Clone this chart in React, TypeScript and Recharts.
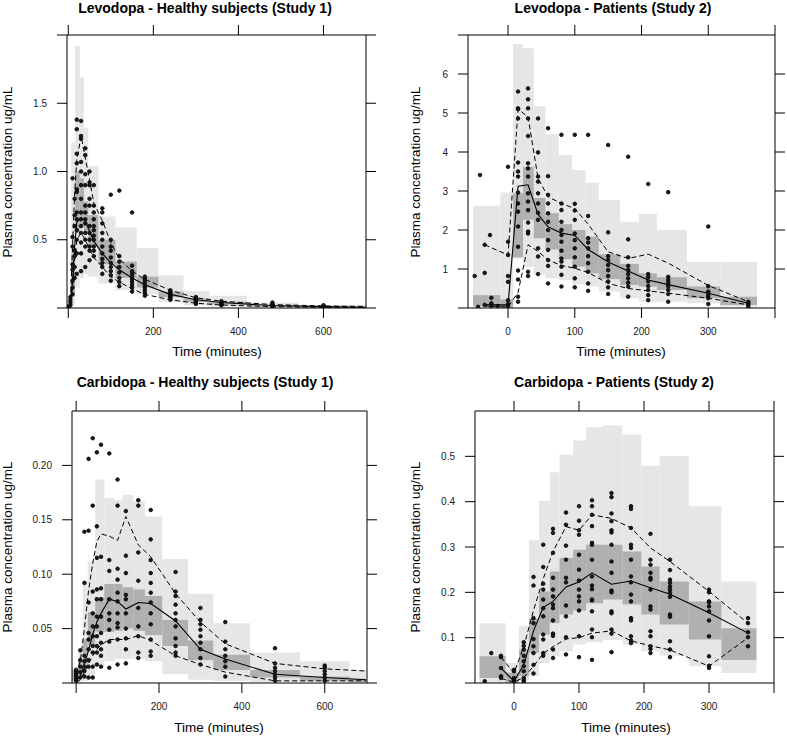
import React from "react";
import { ComposedChart, XAxis, YAxis, Line, Scatter, ReferenceArea } from "recharts";

const FONT = "'Liberation Sans', Arial, Helvetica, sans-serif";
const LIGHT = "#e6e6e6";
const DARK = "#b0b0b0";

// ---------- Levodopa - Healthy subjects (Study 1) ----------
const LD1_OBS_TIMES = [0, 5, 10, 15, 20, 30, 40, 50, 60, 80, 100, 120, 150, 180, 240, 300, 360, 480, 600];
const LD1_OBS_CONC = [
  [0, 0.005, 0.01],
  [0.02, 0.04, 0.06, 0.08],
  [0.1, 0.15, 0.2, 0.28, 0.32, 0.45, 0.52, 0.95],
  [0.22, 0.3, 0.38, 0.42, 0.6, 0.68, 0.8],
  [0.25, 0.4, 0.5, 0.57, 0.65, 0.7, 0.85, 0.87, 1.06, 1.13, 1.31, 1.38],
  [0.27, 0.4, 0.48, 0.55, 0.6, 0.65, 0.7, 0.8, 0.9, 1.0, 1.07, 1.24, 1.26, 1.37],
  [0.3, 0.45, 0.5, 0.55, 0.62, 0.65, 0.7, 0.75, 0.9, 0.98, 1.12, 1.17],
  [0.35, 0.42, 0.45, 0.5, 0.55, 0.6, 0.75, 0.8, 0.9, 0.92, 1.0],
  [0.38, 0.42, 0.45, 0.5, 0.53, 0.57, 0.6, 0.65, 0.7, 0.75, 0.9],
  [0.25, 0.3, 0.33, 0.36, 0.4, 0.45, 0.5, 0.55, 0.62, 0.7, 0.73],
  [0.2, 0.24, 0.27, 0.3, 0.33, 0.37, 0.42, 0.45, 0.5, 0.83],
  [0.16, 0.19, 0.22, 0.26, 0.3, 0.34, 0.38, 0.86],
  [0.12, 0.15, 0.17, 0.19, 0.21, 0.23, 0.25, 0.27, 0.31, 0.7],
  [0.09, 0.11, 0.13, 0.15, 0.17, 0.19, 0.21, 0.23],
  [0.06, 0.07, 0.08, 0.09, 0.1, 0.11, 0.12, 0.13],
  [0.03, 0.04, 0.05, 0.06, 0.07, 0.08],
  [0.02, 0.025, 0.03, 0.04, 0.05],
  [0.01, 0.015, 0.02, 0.03, 0.04],
  [0.005, 0.01, 0.015, 0.02],
];
const LD1_LINE_TIMES = [0, 5, 10, 15, 20, 30, 40, 50, 60, 80, 100, 120, 150, 180, 240, 300, 360, 480, 600, 700];
const LD1_MEDIAN = [0, 0.03, 0.2, 0.45, 0.63, 0.66, 0.64, 0.56, 0.49, 0.4, 0.33, 0.28, 0.22, 0.17, 0.1, 0.06, 0.04, 0.018, 0.01, 0.006];
const LD1_P95 = [0, 0.05, 0.45, 0.85, 1.08, 1.26, 1.1, 0.94, 0.77, 0.64, 0.48, 0.36, 0.27, 0.21, 0.13, 0.075, 0.05, 0.025, 0.015, 0.012];
const LD1_P05 = [0, 0.02, 0.15, 0.35, 0.5, 0.55, 0.5, 0.43, 0.37, 0.3, 0.23, 0.19, 0.14, 0.1, 0.06, 0.035, 0.022, 0.01, 0.005, 0.003];
const LD1_BIN_EDGES = [0, 7, 16, 27, 37, 47, 71, 111, 161, 212, 271, 332, 420, 540, 700];
const LD1_PI_LO = [0, 0.02, 0.15, 0.22, 0.25, 0.23, 0.18, 0.13, 0.1, 0.045, 0.02, 0.01, 0.005, 0.002];
const LD1_PI_HI = [0.06, 1.21, 1.92, 1.69, 1.32, 1.04, 0.67, 0.59, 0.44, 0.24, 0.125, 0.09, 0.04, 0.022];
const LD1_MED_LO = [0, 0.1, 0.55, 0.6, 0.55, 0.45, 0.32, 0.22, 0.15, 0.08, 0.045, 0.025, 0.01, 0.004];
const LD1_MED_HI = [0.02, 0.4, 1.0, 0.95, 0.78, 0.68, 0.5, 0.34, 0.23, 0.12, 0.07, 0.045, 0.02, 0.01];

// ---------- Levodopa - Patients (Study 2) ----------
const LD2_OBS_TIMES = [-50, -45, -42, -35, -27, -25, -15, 0, 15, 30, 45, 60, 80, 100, 120, 150, 180, 210, 240, 300, 360];
const LD2_OBS_CONC = [
  [0.82],
  [0.03],
  [3.41],
  [1.62, 0.9, 0.08],
  [1.87],
  [0.26, 0.12, 0.05],
  [0.05],
  [3.62, 1.7, 1.36, 0.82, 0.67, 0.2, 0.1, 0.05],
  [5.55, 5.12, 5.1, 4.86, 3.73, 3.5, 3.37, 2.96, 2.68, 2.47, 2.09, 1.57, 0.96, 0.73, 0.29, 0.16],
  [5.63, 5.35, 5.12, 4.86, 4.41, 3.71, 3.58, 3.37, 2.94, 2.73, 2.51, 2.19, 1.96, 1.91, 0.93, 0.82],
  [4.86, 3.99, 3.37, 3.24, 2.94, 2.68, 2.44, 2.26, 1.53, 1.32, 0.87],
  [4.61, 3.38, 2.9, 2.68, 2.43, 2.21, 2.0, 1.74, 1.49, 1.23, 1.08, 0.63],
  [4.44, 2.68, 2.51, 2.21, 2.0, 1.87, 1.7, 1.47, 1.27, 1.19, 1.06, 0.85, 0.55],
  [4.44, 2.67, 2.5, 2.26, 1.91, 1.74, 1.53, 1.3, 1.06, 0.76, 0.53],
  [4.44, 2.36, 1.79, 1.68, 1.53, 1.33, 1.15, 0.93, 0.63, 0.44],
  [4.18, 1.94, 1.33, 1.23, 1.1, 0.97, 0.82, 0.68, 0.53, 0.36],
  [3.88, 1.76, 1.3, 1.08, 0.97, 0.87, 0.76, 0.65, 0.55, 0.29],
  [3.18, 0.87, 0.79, 0.68, 0.56, 0.46, 0.33, 0.2],
  [2.97, 0.8, 0.72, 0.65, 0.56, 0.46, 0.36, 0.16],
  [2.09, 0.56, 0.42, 0.38, 0.31, 0.25, 0.1],
  [0.16, 0.12, 0.08, 0.03],
];
const LD2_LINE_TIMES = [-35, 0, 15, 30, 45, 60, 80, 100, 120, 150, 180, 210, 240, 300, 360];
const LD2_MEDIAN = [0.08, 0.08, 3.12, 3.16, 2.4, 2.08, 1.92, 1.86, 1.5, 1.18, 0.95, 0.72, 0.6, 0.38, 0.12];
const LD2_P95 = [1.62, 1.36, 5.1, 4.9, 3.32, 2.85, 2.68, 2.55, 2.15, 1.44, 1.27, 1.38, 1.15, 0.58, 0.16];
const LD2_P05 = [0.05, 0.03, 0.4, 1.62, 1.45, 1.23, 1.09, 1.02, 0.91, 0.63, 0.5, 0.44, 0.38, 0.25, 0.08];
const LD2_BIN_EDGES = [-52.5, -11.5, 7.5, 22.5, 38.5, 56, 76, 96, 116, 136, 168, 196, 223, 268, 318, 373];
const LD2_PI_LO = [0, 0, 1.27, 1.06, 0.85, 0.76, 0.72, 0.6, 0.55, 0.42, 0.25, 0.16, 0.16, 0.12, 0.03];
const LD2_PI_HI = [2.62, 2.96, 6.77, 6.66, 5.18, 4.46, 3.92, 3.54, 3.21, 2.77, 2.21, 2.41, 2.0, 1.18, 1.18];
const LD2_MED_LO = [0.05, 0, 1.3, 2.26, 1.79, 1.5, 1.25, 1.06, 0.89, 0.74, 0.59, 0.55, 0.46, 0.25, 0.08];
const LD2_MED_HI = [0.33, 0.22, 2.94, 3.62, 2.82, 2.43, 2.15, 2.0, 1.83, 1.38, 1.13, 0.89, 0.79, 0.55, 0.29];

// ---------- Carbidopa - Healthy subjects (Study 1) ----------
const CD1_OBS_TIMES = [0, 10, 20, 30, 40, 50, 60, 80, 100, 120, 150, 180, 240, 300, 360, 480, 600];
const CD1_OBS_CONC = [
  [0.002, 0.004, 0.006, 0.008, 0.01, 0.012],
  [0.03, 0.021, 0.015, 0.01, 0.005],
  [0.139, 0.092, 0.025, 0.02, 0.015, 0.011, 0.006],
  [0.206, 0.14, 0.074, 0.046, 0.04, 0.031, 0.021, 0.015, 0.005],
  [0.225, 0.163, 0.084, 0.064, 0.052, 0.043, 0.034, 0.028, 0.015, 0.005],
  [0.212, 0.144, 0.115, 0.086, 0.077, 0.061, 0.052, 0.043, 0.034, 0.028, 0.017],
  [0.219, 0.116, 0.087, 0.077, 0.061, 0.046, 0.037, 0.031, 0.025, 0.015],
  [0.211, 0.113, 0.103, 0.077, 0.064, 0.058, 0.049, 0.038, 0.014],
  [0.187, 0.163, 0.105, 0.095, 0.083, 0.075, 0.064, 0.055, 0.051, 0.04, 0.017],
  [0.158, 0.117, 0.101, 0.081, 0.077, 0.064, 0.05, 0.041, 0.031, 0.018],
  [0.168, 0.163, 0.12, 0.094, 0.069, 0.052, 0.043, 0.028, 0.023],
  [0.159, 0.132, 0.113, 0.101, 0.092, 0.083, 0.074, 0.064, 0.054, 0.04, 0.029, 0.025],
  [0.102, 0.084, 0.08, 0.072, 0.064, 0.058, 0.052, 0.041, 0.034, 0.028, 0.025],
  [0.069, 0.058, 0.054, 0.049, 0.043, 0.037, 0.031, 0.023, 0.017],
  [0.056, 0.038, 0.031, 0.025, 0.02, 0.015, 0.006],
  [0.032, 0.018, 0.014, 0.011, 0.008, 0.005, 0.002],
  [0.016, 0.014, 0.011, 0.008, 0.005, 0.002],
];
const CD1_LINE_TIMES = [0, 10, 20, 30, 40, 50, 60, 80, 100, 120, 150, 180, 240, 300, 360, 480, 600, 700];
const CD1_MEDIAN = [0.002, 0.006, 0.018, 0.03, 0.045, 0.056, 0.064, 0.077, 0.075, 0.068, 0.074, 0.073, 0.057, 0.031, 0.022, 0.008, 0.005, 0.003];
const CD1_P95 = [0.008, 0.02, 0.05, 0.085, 0.11, 0.13, 0.137, 0.135, 0.131, 0.153, 0.127, 0.116, 0.082, 0.056, 0.036, 0.018, 0.013, 0.011];
const CD1_P05 = [0, 0.003, 0.01, 0.018, 0.025, 0.031, 0.035, 0.04, 0.04, 0.04, 0.0435, 0.039, 0.025, 0.017, 0.01, 0.002, 0.002, 0.002];
const CD1_BIN_EDGES = [-10, 5, 16, 28, 46, 68, 92, 112, 138, 166, 208, 270, 331, 420, 540, 660, 700];
const CD1_PI_LO = [0, 0, 0.002, 0.005, 0.015, 0.02, 0.022, 0.022, 0.022, 0.02, 0.008, 0.003, 0.002, 0.001, 0.001, 0];
const CD1_PI_HI = [0.015, 0.03, 0.094, 0.112, 0.187, 0.17, 0.168, 0.173, 0.167, 0.153, 0.114, 0.082, 0.055, 0.028, 0.02, 0.012];
const CD1_MED_LO = [0.002, 0.005, 0.015, 0.035, 0.047, 0.047, 0.048, 0.05, 0.048, 0.044, 0.034, 0.021, 0.012, 0.005, 0.002, 0.001];
const CD1_MED_HI = [0.012, 0.02, 0.04, 0.065, 0.079, 0.091, 0.091, 0.088, 0.086, 0.08, 0.058, 0.039, 0.026, 0.012, 0.006, 0.004];

// ---------- Carbidopa - Patients (Study 2) ----------
const CD2_OBS_TIMES = [-45, -35, -20, 0, 15, 30, 45, 60, 80, 100, 120, 150, 180, 210, 240, 300, 360];
const CD2_OBS_CONC = [
  [0.004],
  [0.066],
  [0.06, 0.057, 0.033, 0.015, 0.011],
  [0.029, 0.026, 0.011, 0.006, 0.002],
  [0.09, 0.082, 0.074, 0.06, 0.048, 0.037, 0.026, 0.011, 0.006, 0.002],
  [0.234, 0.215, 0.143, 0.132, 0.097, 0.081, 0.066, 0.04, 0.021],
  [0.305, 0.256, 0.219, 0.206, 0.184, 0.165, 0.147, 0.107, 0.096, 0.066, 0.06],
  [0.34, 0.331, 0.287, 0.232, 0.206, 0.191, 0.173, 0.165, 0.138, 0.109, 0.104, 0.074, 0.055],
  [0.376, 0.349, 0.303, 0.272, 0.232, 0.222, 0.171, 0.147, 0.101, 0.063],
  [0.39, 0.358, 0.337, 0.327, 0.283, 0.25, 0.226, 0.206, 0.191, 0.18, 0.16, 0.103, 0.057],
  [0.403, 0.39, 0.371, 0.346, 0.309, 0.305, 0.272, 0.235, 0.215, 0.207, 0.184, 0.182, 0.158, 0.118, 0.101, 0.051],
  [0.419, 0.41, 0.374, 0.357, 0.337, 0.332, 0.305, 0.268, 0.243, 0.204, 0.2, 0.158, 0.154, 0.118, 0.109, 0.068],
  [0.39, 0.384, 0.342, 0.305, 0.298, 0.272, 0.235, 0.222, 0.195, 0.18, 0.143, 0.138, 0.103, 0.094, 0.088],
  [0.329, 0.272, 0.261, 0.243, 0.232, 0.228, 0.206, 0.169, 0.162, 0.114, 0.103, 0.081, 0.075, 0.066],
  [0.272, 0.249, 0.228, 0.221, 0.213, 0.206, 0.199, 0.19, 0.151, 0.146, 0.092, 0.074, 0.057],
  [0.206, 0.2, 0.18, 0.178, 0.169, 0.158, 0.138, 0.103, 0.059, 0.038, 0.033],
  [0.143, 0.132, 0.112, 0.101, 0.081],
];
const CD2_LINE_TIMES = [-20, 0, 15, 30, 45, 60, 80, 100, 120, 150, 180, 210, 240, 300, 360];
const CD2_MEDIAN = [0.033, 0.004, 0.04, 0.115, 0.167, 0.18, 0.212, 0.223, 0.243, 0.218, 0.225, 0.21, 0.196, 0.155, 0.11];
const CD2_P95 = [0.057, 0.022, 0.08, 0.16, 0.23, 0.29, 0.345, 0.337, 0.371, 0.363, 0.342, 0.298, 0.268, 0.202, 0.132];
const CD2_P05 = [0.01, 0.002, 0.012, 0.037, 0.065, 0.08, 0.097, 0.1, 0.11, 0.115, 0.093, 0.082, 0.073, 0.037, 0.1];
const CD2_BIN_EDGES = [-53, -12.8, 7.7, 23, 38.6, 55, 70, 91, 111, 137, 167, 196, 224, 269, 319, 373];
const CD2_PI_LO = [0, 0, 0.005, 0.015, 0.044, 0.059, 0.07, 0.085, 0.09, 0.095, 0.085, 0.07, 0.06, 0.037, 0.022];
const CD2_PI_HI = [0.132, 0.044, 0.126, 0.315, 0.402, 0.465, 0.504, 0.535, 0.564, 0.568, 0.548, 0.479, 0.501, 0.39, 0.224];
const CD2_MED_LO = [0.011, 0, 0.015, 0.066, 0.107, 0.132, 0.151, 0.16, 0.176, 0.184, 0.173, 0.151, 0.129, 0.096, 0.051];
const CD2_MED_HI = [0.059, 0.023, 0.074, 0.142, 0.202, 0.246, 0.276, 0.294, 0.305, 0.305, 0.29, 0.257, 0.224, 0.18, 0.121];

type Pt = { x: number; y: number };

const toPoints = (times: number[], conc: number[][]): Pt[] =>
  times.flatMap((t, i) => conc[i].map((c) => ({ x: t, y: c })));

const toSeries = (times: number[], vals: number[]): Pt[] => times.map((t, i) => ({ x: t, y: vals[i] }));

interface PanelProps {
  left: number;
  top: number;
  width: number;
  height: number;
  margin: { top: number; right: number; bottom: number; left: number };
  xDomain: [number, number];
  yDomain: [number, number];
  xTicks: number[];
  xHideLabels: number[];
  yTicksLeft: number[];
  yTicksRight: number[];
  yHideLabels: number[];
  yFormat: (v: number) => string;
  obsTimes: number[];
  obsConc: number[][];
  lineTimes: number[];
  median: number[];
  p05: number[];
  p95: number[];
  binEdges: number[];
  piLo: number[];
  piHi: number[];
  medLo: number[];
  medHi: number[];
}

const tickStyle = { fontSize: 10, fill: "#1a1a1a", fontFamily: FONT };
const axisLine = { stroke: "#000", strokeWidth: 1 };

function Dot(props: any) {
  const { cx, cy } = props;
  if (cx == null || cy == null) return null;
  return <circle cx={cx} cy={cy} r={1.8} fill="#1a1a1a" stroke="#000" strokeWidth={0.8} />;
}

function Panel(p: PanelProps) {
  const points = toPoints(p.obsTimes, p.obsConc);
  const med = toSeries(p.lineTimes, p.median);
  const lo = toSeries(p.lineTimes, p.p05);
  const hi = toSeries(p.lineTimes, p.p95);
  const bins = p.piLo.map((_, i) => ({ x1: p.binEdges[i], x2: p.binEdges[i + 1], i }));
  const xFmt = (v: number) => (p.xHideLabels.includes(v) ? "" : String(v));
  const yFmt = (v: number) => (p.yHideLabels.includes(v) ? "" : p.yFormat(v));

  return (
    <div style={{ position: "absolute", left: p.left, top: p.top }}>
      <ComposedChart width={p.width} height={p.height} margin={p.margin}>
        <XAxis
          xAxisId="b"
          dataKey="x"
          type="number"
          domain={p.xDomain}
          allowDataOverflow
          ticks={p.xTicks}
          interval={0}
          tickFormatter={xFmt}
          height={30}
          tickSize={10}
          tickMargin={10}
          tick={tickStyle}
          axisLine={axisLine}
          tickLine={axisLine}
        />
        <XAxis
          xAxisId="t"
          orientation="top"
          dataKey="x"
          type="number"
          domain={p.xDomain}
          allowDataOverflow
          ticks={p.xTicks}
          interval={0}
          tickFormatter={() => ""}
          height={10}
          tickSize={10}
          axisLine={axisLine}
          tickLine={axisLine}
        />
        <YAxis
          yAxisId="l"
          dataKey="y"
          type="number"
          domain={p.yDomain}
          allowDataOverflow
          ticks={p.yTicksLeft}
          interval={0}
          tickFormatter={yFmt}
          width={60}
          tickSize={10}
          tickMargin={10}
          tick={tickStyle}
          axisLine={axisLine}
          tickLine={axisLine}
        />
        <YAxis
          yAxisId="r"
          orientation="right"
          type="number"
          domain={p.yDomain}
          allowDataOverflow
          ticks={p.yTicksRight}
          interval={0}
          tickFormatter={() => ""}
          width={10}
          tickSize={10}
          axisLine={axisLine}
          tickLine={axisLine}
        />
        {bins.map((b) => (
          <ReferenceArea
            key={`pi-${b.i}`}
            xAxisId="b"
            yAxisId="l"
            x1={b.x1}
            x2={b.x2}
            y1={p.piLo[b.i]}
            y2={p.piHi[b.i]}
            fill={LIGHT}
            fillOpacity={1}
            stroke="none"
            ifOverflow="hidden"
          />
        ))}
        {bins.map((b) => (
          <ReferenceArea
            key={`med-${b.i}`}
            xAxisId="b"
            yAxisId="l"
            x1={b.x1}
            x2={b.x2}
            y1={p.medLo[b.i]}
            y2={p.medHi[b.i]}
            fill={DARK}
            fillOpacity={1}
            stroke="none"
            ifOverflow="hidden"
          />
        ))}
        <Scatter
          xAxisId="b"
          yAxisId="l"
          data={points}
          shape={<Dot />}
          isAnimationActive={false}
        />
        <Line
          xAxisId="b"
          yAxisId="l"
          data={hi}
          dataKey="y"
          type="linear"
          stroke="#000"
          strokeWidth={1}
          strokeDasharray="5 3"
          dot={false}
          isAnimationActive={false}
        />
        <Line
          xAxisId="b"
          yAxisId="l"
          data={lo}
          dataKey="y"
          type="linear"
          stroke="#000"
          strokeWidth={1}
          strokeDasharray="5 3"
          dot={false}
          isAnimationActive={false}
        />
        <Line
          xAxisId="b"
          yAxisId="l"
          data={med}
          dataKey="y"
          type="linear"
          stroke="#000"
          strokeWidth={1.1}
          dot={false}
          isAnimationActive={false}
        />
      </ComposedChart>
    </div>
  );
}

function Label({ x, y, text, bold, rotate }: { x: number; y: number; text: string; bold?: boolean; rotate?: boolean }) {
  return (
    <div
      style={{
        position: "absolute",
        left: x,
        top: y,
        transform: `translate(-50%, -50%)${rotate ? " rotate(-90deg)" : ""}`,
        whiteSpace: "nowrap",
        fontFamily: FONT,
        fontSize: bold ? 14 : 13.5,
        fontWeight: bold ? 700 : 400,
        color: "#000",
        lineHeight: 1,
      }}
    >
      {text}
    </div>
  );
}

const fmt1 = (v: number) => v.toFixed(1);
const fmt2 = (v: number) => v.toFixed(2);
const fmt0 = (v: number) => String(v);

export default function App() {
  return (
    <div style={{ position: "absolute", left: 0, top: 0, width: 787, height: 736, background: "#fff", overflow: "hidden" }}>
      <Panel
        left={0}
        top={0}
        width={393}
        height={368}
        margin={{ top: 25, right: 17, bottom: 30, left: 7 }}
        xDomain={[-3, 700]}
        yDomain={[0, 2]}
        xTicks={[0, 200, 400, 600]}
        xHideLabels={[0]}
        yTicksLeft={[0, 0.5, 1, 1.5, 2]}
        yTicksRight={[0, 0.5, 1, 1.5, 2]}
        yHideLabels={[0, 2]}
        yFormat={fmt1}
        obsTimes={LD1_OBS_TIMES}
        obsConc={LD1_OBS_CONC}
        lineTimes={LD1_LINE_TIMES}
        median={LD1_MEDIAN}
        p05={LD1_P05}
        p95={LD1_P95}
        binEdges={LD1_BIN_EDGES}
        piLo={LD1_PI_LO}
        piHi={LD1_PI_HI}
        medLo={LD1_MED_LO}
        medHi={LD1_MED_HI}
      />
      <Panel
        left={393}
        top={0}
        width={394}
        height={368}
        margin={{ top: 25, right: 2, bottom: 30, left: 15 }}
        xDomain={[-60, 400]}
        yDomain={[0, 7]}
        xTicks={[0, 100, 200, 300, 400]}
        xHideLabels={[400]}
        yTicksLeft={[0, 1, 2, 3, 4, 5, 6, 7]}
        yTicksRight={[1, 2, 3, 4, 5, 6]}
        yHideLabels={[0, 7]}
        yFormat={fmt0}
        obsTimes={LD2_OBS_TIMES}
        obsConc={LD2_OBS_CONC}
        lineTimes={LD2_LINE_TIMES}
        median={LD2_MEDIAN}
        p05={LD2_P05}
        p95={LD2_P95}
        binEdges={LD2_BIN_EDGES}
        piLo={LD2_PI_LO}
        piHi={LD2_PI_HI}
        medLo={LD2_MED_LO}
        medHi={LD2_MED_HI}
      />
      <Panel
        left={0}
        top={368}
        width={393}
        height={368}
        margin={{ top: 33, right: 16, bottom: 23, left: 12 }}
        xDomain={[-10, 702]}
        yDomain={[0, 0.25]}
        xTicks={[0, 200, 400, 600]}
        xHideLabels={[0]}
        yTicksLeft={[0, 0.05, 0.1, 0.15, 0.2]}
        yTicksRight={[0, 0.05, 0.1, 0.15, 0.2]}
        yHideLabels={[0]}
        yFormat={fmt2}
        obsTimes={CD1_OBS_TIMES}
        obsConc={CD1_OBS_CONC}
        lineTimes={CD1_LINE_TIMES}
        median={CD1_MEDIAN}
        p05={CD1_P05}
        p95={CD1_P95}
        binEdges={CD1_BIN_EDGES}
        piLo={CD1_PI_LO}
        piHi={CD1_PI_HI}
        medLo={CD1_MED_LO}
        medHi={CD1_MED_HI}
      />
      <Panel
        left={393}
        top={368}
        width={394}
        height={368}
        margin={{ top: 33, right: 3, bottom: 23, left: 22 }}
        xDomain={[-60, 400]}
        yDomain={[0, 0.6]}
        xTicks={[0, 100, 200, 300, 400]}
        xHideLabels={[400]}
        yTicksLeft={[0, 0.1, 0.2, 0.3, 0.4, 0.5]}
        yTicksRight={[0.1, 0.2, 0.3, 0.4, 0.5]}
        yHideLabels={[0]}
        yFormat={fmt1}
        obsTimes={CD2_OBS_TIMES}
        obsConc={CD2_OBS_CONC}
        lineTimes={CD2_LINE_TIMES}
        median={CD2_MEDIAN}
        p05={CD2_P05}
        p95={CD2_P95}
        binEdges={CD2_BIN_EDGES}
        piLo={CD2_PI_LO}
        piHi={CD2_PI_HI}
        medLo={CD2_MED_LO}
        medHi={CD2_MED_HI}
      />

      <Label x={205} y={8} text="Levodopa - Healthy subjects (Study 1)" bold />
      <Label x={613} y={8} text="Levodopa - Patients (Study 2)" bold />
      <Label x={205} y={382} text="Carbidopa - Healthy subjects (Study 1)" bold />
      <Label x={614} y={382} text="Carbidopa - Patients (Study 2)" bold />

      <Label x={217} y={352} text="Time (minutes)" />
      <Label x={621} y={352} text="Time (minutes)" />
      <Label x={219} y={728} text="Time (minutes)" />
      <Label x={626} y={728} text="Time (minutes)" />

      <Label x={8} y={172} text="Plasma concentration ug/mL" rotate />
      <Label x={416} y={172} text="Plasma concentration ug/mL" rotate />
      <Label x={8} y={547} text="Plasma concentration ug/mL" rotate />
      <Label x={416} y={547} text="Plasma concentration ug/mL" rotate />
    </div>
  );
}
